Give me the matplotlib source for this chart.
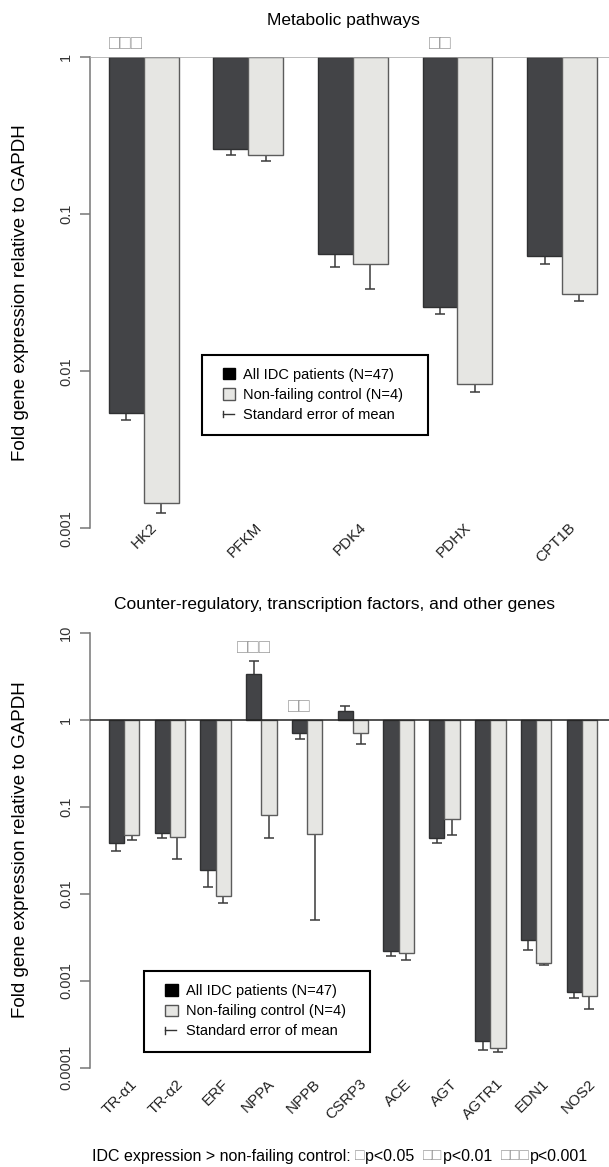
import numpy as np
import matplotlib
matplotlib.use('Agg')
import matplotlib.pyplot as plt
from matplotlib.patches import Patch, Rectangle
from matplotlib.lines import Line2D
from matplotlib.legend_handler import HandlerBase, HandlerPatch
from matplotlib.offsetbox import TextArea, HPacker, AnchoredOffsetbox

plt.rcParams['font.family'] = ['Liberation Sans', 'DejaVu Sans']

# metabolic pathway genes
metabolic_genes = ['HK2', 'PFKM', 'PDK4', 'PDHX', 'CPT1B']
metabolic_idc = [0.00542, 0.26, 0.056, 0.0257, 0.054]
metabolic_idc_sem = [0.00054, 0.022, 0.010, 0.0024, 0.0055]
metabolic_ctrl = [0.00145, 0.24, 0.0485, 0.0083, 0.031]
metabolic_ctrl_sem = [0.00019, 0.021, 0.0151, 0.00095, 0.003]
metabolic_stars = [3, 0, 0, 2, 0]

# counter-regulatory, transcription factors and other genes
other_genes = ['TR-α1', 'TR-α2', 'ERF', 'NPPA', 'NPPB', 'CSRP3', 'ACE', 'AGT',
               'AGTR1', 'EDN1', 'NOS2']
other_idc = [0.0382, 0.0498, 0.0189, 3.44, 0.72, 1.27, 0.00219, 0.044,
             0.000203, 0.00296, 0.000753]
other_idc_sem = [0.0067, 0.0061, 0.0070, 1.33, 0.11, 0.18, 0.00027, 0.0054,
                 0.000043, 0.00069, 0.000127]
other_ctrl = [0.0472, 0.0448, 0.0095, 0.081, 0.0485, 0.72, 0.0021, 0.0728,
              0.000168, 0.00162, 0.00066]
other_ctrl_sem = [0.0054, 0.0196, 0.0017, 0.037, 0.0435, 0.194, 0.00037, 0.0248,
                  0.000015, 0.00008, 0.000192]
other_stars = [0, 0, 0, 3, 2, 0, 0, 0, 0, 0, 0]

DARK = '#434447'
LIGHT = '#e6e6e3'
STAR_COLOR = '#9c9c9c'
W, H = 609, 1167


def px_rect(x0, y0, x1, y1):
    return [x0 / W, 1 - y1 / H, (x1 - x0) / W, (y1 - y0) / H]


SQ = 0.62  # width of legend squares, as a share of the handle box


def square_patch(legend, orig_handle, xdescent, ydescent, width, height, fontsize):
    w = width * SQ
    return Rectangle((-xdescent + width - w, -ydescent), w, height)


class SEMHandler(HandlerBase):
    # little "|-" glyph for the standard error entry
    def create_artists(self, legend, orig_handle, xdescent, ydescent,
                       width, height, fontsize, trans):
        x0 = -xdescent + width * (1 - SQ)
        yc = -ydescent + height / 2
        h = Line2D([x0, x0 + width * SQ * 0.9], [yc, yc], color='#333333', lw=1,
                   transform=trans)
        v = Line2D([x0, x0], [yc - height * 0.3, yc + height * 0.3], color='#333333',
                   lw=1, transform=trans)
        return [h, v]


def draw_panel(ax, genes, idc, idc_sem, ctrl, ctrl_sem, stars, ylim, yticks,
               yticklabels, line_color, xlim, lab_off):
    centers = 2 + 3 * np.arange(len(genes))
    tips_all = []
    for xs, vals, sems, fc, ec in [(centers - 0.5, idc, idc_sem, DARK, '#2f3032'),
                                   (centers + 0.5, ctrl, ctrl_sem, LIGHT, '#5c5c5c')]:
        vals = np.array(vals)
        sems = np.array(sems)
        ax.bar(xs, vals - 1, bottom=1, width=1, color=fc, edgecolor=ec,
               linewidth=1, zorder=2)
        tips = np.where(vals < 1, vals - sems, vals + sems)
        ax.vlines(xs, vals, tips, color='#3a3a3a', lw=1.1, zorder=1)
        ax.plot(xs, tips, ls='none', marker='_', ms=7.5, mew=1.1, color='#3a3a3a', zorder=1)
        tips_all.append(tips)

    ax.axhline(1, color=line_color, lw=1.1, zorder=3)

    # significance boxes above the IDC bars
    for i, s in enumerate(stars):
        if s == 0:
            continue
        top = max(1, tips_all[0][i])
        ax.annotate('□' * s, xy=(centers[i] - 0.5, top), xytext=(0, 9.4),
                    textcoords='offset points', ha='center', va='center',
                    color=STAR_COLOR, fontsize=13.5, annotation_clip=False)

    for c, g in zip(centers, genes):
        ax.annotate(g, xy=(c, 0), xycoords=('data', 'axes fraction'), xytext=lab_off,
                    textcoords='offset points', rotation=45, rotation_mode='anchor',
                    ha='right', va='center', fontsize=11, color='#222222',
                    annotation_clip=False)

    ax.set_yscale('log')
    ax.set_ylim(*ylim)
    ax.set_xlim(*xlim)
    ax.set_yticks(yticks)
    ax.set_yticklabels(yticklabels, rotation=90, va='center', fontsize=10.5, color='#333333')
    ax.minorticks_off()
    ax.set_xticks([])
    ax.tick_params(axis='y', length=7, width=1.1, color='#777777', pad=5)
    for side in ['top', 'right', 'bottom']:
        ax.spines[side].set_visible(False)
    ax.spines['left'].set_color('#777777')
    ax.spines['left'].set_linewidth(1.1)


def add_legend(fig, x0, y0, x1, y1):
    handles = [Patch(facecolor='black', edgecolor='black'),
               Patch(facecolor=LIGHT, edgecolor='#555555'),
               Line2D([], [])]
    labels = ['All IDC patients (N=47)', 'Non-failing control (N=4)', 'Standard error of mean']
    leg = fig.legend(handles, labels, loc='upper left', mode='expand',
                     bbox_to_anchor=px_rect(x0, y0, x1, y1),
                     bbox_transform=fig.transFigure, fontsize=10.5, frameon=True,
                     fancybox=False, edgecolor='black', framealpha=1, borderpad=0.9,
                     handlelength=1.42, handleheight=0.82, handletextpad=0.55,
                     labelspacing=0.42, borderaxespad=0,
                     handler_map={Patch: HandlerPatch(patch_func=square_patch),
                                  Line2D: SEMHandler()})
    leg.get_frame().set_linewidth(1.5)
    return leg


fig = plt.figure(figsize=(W / 100, H / 100), dpi=100)

ax1 = fig.add_axes(px_rect(90, 57.3, W, 528.3))
draw_panel(ax1, metabolic_genes, metabolic_idc, metabolic_idc_sem, metabolic_ctrl,
           metabolic_ctrl_sem, metabolic_stars, (0.001, 1), [1, 0.1, 0.01, 0.001],
           ['1', '0.1', '0.01', '0.001'], '#a8a8a8', (0.46, 15.35), (8.3, 2.2))

ax2 = fig.add_axes(px_rect(90, 633.3, W, 1067.7))
draw_panel(ax2, other_genes, other_idc, other_idc_sem, other_ctrl, other_ctrl_sem,
           other_stars, (0.0001, 10), [10, 1, 0.1, 0.01, 0.001, 0.0001],
           ['10', '1', '0.1', '0.01', '0.001', '0.0001'], '#222222', (-0.23, 33.78),
           (7.9, -10))

fig.text(343 / W, 1 - 20 / H, 'Metabolic pathways', ha='center', va='center', fontsize=12.5)
fig.text(335 / W, 1 - 605 / H, 'Counter-regulatory, transcription factors, and other genes',
         ha='center', va='center', fontsize=12.5)

ylab = 'Fold gene expression relative to GAPDH'
fig.text(21 / W, 1 - 293 / H, ylab, rotation=90, ha='center', va='center', fontsize=13.5)
fig.text(21 / W, 1 - 850 / H, ylab, rotation=90, ha='center', va='center', fontsize=13.5)

add_legend(fig, 201.6, 354.7, 428.3, 434.3)
add_legend(fig, 143.7, 971, 370.1, 1048.3)

# footnote with grey significance boxes
parts = [('IDC expression > non-failing control: ', 'black'), ('□', STAR_COLOR),
         ('p<0.05  ', 'black'), ('□□', STAR_COLOR), ('p<0.01  ', 'black'),
         ('□□□', STAR_COLOR), ('p<0.001', 'black')]
areas = [TextArea(t, textprops=dict(color=c, fontsize=11.5)) for t, c in parts]
pack = HPacker(children=areas, align='baseline', pad=0, sep=0)
foot = AnchoredOffsetbox(loc='center', child=pack, frameon=False,
                         bbox_to_anchor=(340 / W, 1 - 1156 / H),
                         bbox_transform=fig.transFigure, borderpad=0)
fig.add_artist(foot)

fig.savefig('out.png', dpi=100)
